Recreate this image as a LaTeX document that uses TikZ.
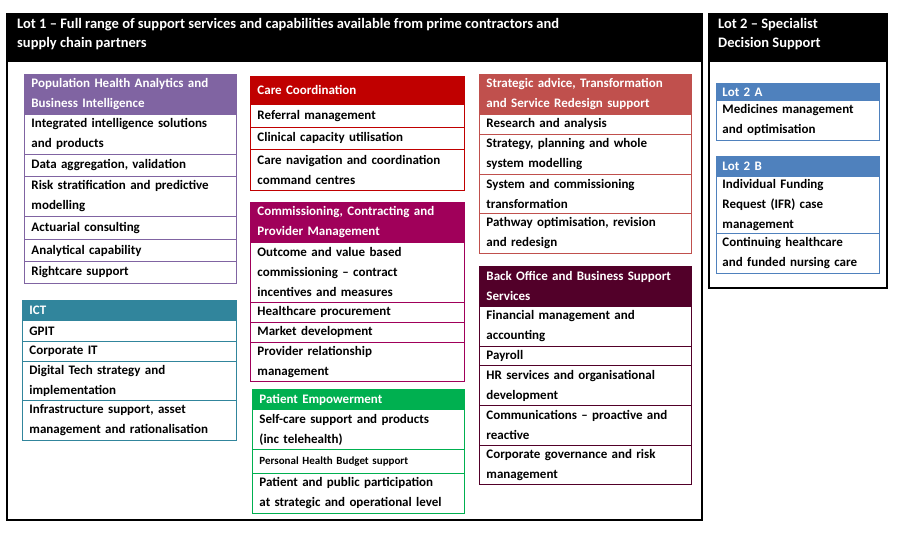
\documentclass[tikz,border=0pt]{standalone}
\usepackage{fontspec}
\setmainfont{Carlito}
\definecolor{cpur}{HTML}{8064A2}
\definecolor{cteal}{HTML}{31859C}
\definecolor{cred}{HTML}{C00000}
\definecolor{cmag}{HTML}{A0005A}
\definecolor{cgrn}{HTML}{00B050}
\definecolor{cstr}{HTML}{C0504D}
\definecolor{cbo}{HTML}{520029}
\definecolor{cblu}{HTML}{4F81BD}
\newcommand\bx[8]{\node[draw=#2,line width=0.9pt,fill=white,anchor=north west,minimum width=#5pt,minimum height=#6pt,text width=#7pt,inner xsep=6pt,inner ysep=0pt,align=left,font=\fontsize{13}{20}\selectfont\bfseries] (#1) at (#3,#4) {#8};}
\newcommand\hd[8]{\node[draw=#2,line width=0.9pt,fill=#2,text=white,anchor=north west,minimum width=#5pt,minimum height=#6pt,text width=#7pt,inner xsep=6pt,inner ysep=0pt,align=left,font=\fontsize{13}{20}\selectfont\bfseries] (#1) at (#3,#4) {#8};}
\begin{document}
\begin{tikzpicture}[x=1pt,y=-1pt]
\useasboundingbox (0,0) rectangle (899,535);
% Lot 1
\draw[line width=2.5pt] (7,14) rectangle (702,520);
\fill (7,14) rectangle (702,62);
\node[anchor=north west,text=white,align=left,inner sep=0pt,font=\fontsize{14.5}{19}\selectfont\bfseries] (lot1) at (17,18) {Lot 1 – Full range of support services and capabilities available from prime contractors and\\supply chain partners};
% Lot 2
\draw[line width=2.5pt] (709,14) rectangle (887,288);
\fill (709,14) rectangle (887,62);
\node[anchor=north west,text=white,align=left,inner sep=0pt,font=\fontsize{14.5}{19}\selectfont\bfseries] (lot2) at (718,18) {Lot 2 – Specialist\\Decision Support};
% column 1
\hd{h1}{cpur}{24}{74}{212}{40}{198}{Population Health Analytics and\\Business Intelligence}
\bx{a1}{cpur}{24}{114}{212}{40}{198}{Integrated intelligence solutions\\and products}
\bx{a2}{cpur}{24}{154}{212}{22}{198}{Data aggregation, validation}
\bx{a3}{cpur}{24}{176}{212}{40}{198}{Risk stratification and predictive\\modelling}
\bx{a4}{cpur}{24}{216}{212}{23}{198}{Actuarial consulting}
\bx{a5}{cpur}{24}{239}{212}{22}{198}{Analytical capability}
\bx{a6}{cpur}{24}{261}{212}{22}{198}{Rightcare support}
\hd{h2}{cteal}{22}{300}{214}{20}{200}{ICT}
\bx{b1}{cteal}{22}{320}{214}{21}{200}{GPIT}
\bx{b2}{cteal}{22}{341}{214}{20}{200}{Corporate IT}
\bx{b3}{cteal}{22}{361}{214}{39}{200}{Digital Tech strategy and\\implementation}
\bx{b4}{cteal}{22}{400}{214}{40}{200}{Infrastructure support, asset\\management and rationalisation}
% column 2
\hd{h3}{cred}{250}{76}{214}{28}{200}{Care Coordination}
\bx{c1}{cred}{250}{104}{214}{23}{200}{Referral management}
\bx{c2}{cred}{250}{127}{214}{22}{200}{Clinical capacity utilisation}
\bx{c3}{cred}{250}{149}{214}{41}{200}{Care navigation and coordination\\command centres}
\hd{h4}{cmag}{250}{202}{214}{40}{200}{Commissioning, Contracting and\\Provider Management}
\bx{d1}{cmag}{250}{242}{214}{60}{200}{Outcome and value based\\commissioning – contract\\incentives and measures}
\bx{d2}{cmag}{250}{302}{214}{20}{200}{Healthcare procurement}
\bx{d3}{cmag}{250}{322}{214}{20}{200}{Market development}
\bx{d4}{cmag}{250}{342}{214}{39}{200}{Provider relationship\\management}
\hd{h5}{cgrn}{252}{389}{212}{20}{198}{Patient Empowerment}
\bx{e1}{cgrn}{252}{409}{212}{40}{198}{Self-care support and products\\(inc telehealth)}
\node[draw=cgrn,line width=0.9pt,fill=white,anchor=north west,minimum width=212pt,minimum height=24pt,text width=198pt,inner xsep=6pt,inner ysep=0pt,align=left,font=\fontsize{11}{14}\selectfont\bfseries] (e2) at (252,449) {Personal Health Budget support};
\bx{e3}{cgrn}{252}{473}{212}{40}{198}{Patient and public participation\\at strategic and operational level}
% column 3
\hd{h6}{cstr}{479}{74}{212}{40}{198}{Strategic advice, Transformation\\and Service Redesign support}
\bx{f1}{cstr}{479}{114}{212}{20}{198}{Research and analysis}
\bx{f2}{cstr}{479}{134}{212}{40}{198}{Strategy, planning and whole\\system modelling}
\bx{f3}{cstr}{479}{174}{212}{39}{198}{System and commissioning\\transformation}
\bx{f4}{cstr}{479}{213}{212}{40}{198}{Pathway optimisation, revision\\and redesign}
\hd{h7}{cbo}{479}{266}{212}{40}{198}{Back Office  and Business Support\\Services}
\bx{g1}{cbo}{479}{306}{212}{40}{198}{Financial management and\\accounting}
\bx{g2}{cbo}{479}{346}{212}{19}{198}{Payroll}
\bx{g3}{cbo}{479}{365}{212}{40}{198}{HR services  and organisational\\development}
\bx{g4}{cbo}{479}{405}{212}{40}{198}{Communications  – proactive and\\reactive}
\bx{g5}{cbo}{479}{445}{212}{39}{198}{Corporate governance and risk\\management}
% Lot 2 cells
\hd{h8}{cblu}{716}{83}{163}{17}{151}{Lot 2 A}
\bx{k1}{cblu}{716}{100}{163}{40}{151}{Medicines management\\and optimisation}
\hd{h9}{cblu}{716}{156}{163}{20}{151}{Lot 2 B}
\bx{k2}{cblu}{716}{176}{163}{57}{151}{Individual Funding\\Request (IFR) case\\management}
\bx{k3}{cblu}{716}{233}{163}{40}{151}{Continuing healthcare\\and funded nursing care}
\end{tikzpicture}
\end{document}
